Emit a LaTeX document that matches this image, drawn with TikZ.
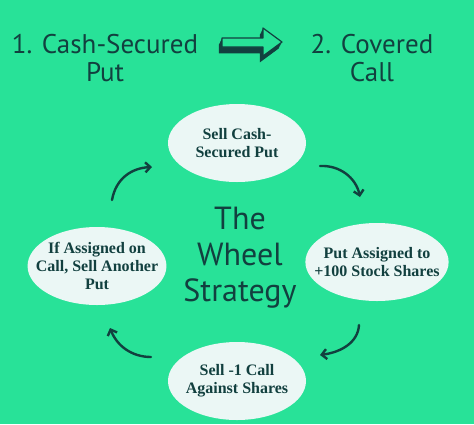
\documentclass[tikz,border=0pt]{standalone}
\usepackage{fontspec}
\setmainfont{Liberation Serif}
\newfontfamily\titlefont{PT Sans}
\usetikzlibrary{arrows.meta,shapes.geometric}
\definecolor{wheelbg}{RGB}{40,226,152}
\definecolor{wheelink}{RGB}{18,64,63}
\definecolor{wheelfill}{RGB}{235,247,245}
\tikzset{
  stepnode/.style={ellipse, fill=wheelfill, text=wheelink, inner xsep=-12pt, inner ysep=0pt,
    minimum width=138pt, minimum height=78pt, align=center,
    font=\bfseries\fontsize{16}{18}\selectfont},
  turn/.style={line width=2.4pt, draw=wheelink, line cap=round,
    -{Straight Barb[length=5pt,width=10pt]}},
  title/.style={text=wheelink, align=center, font=\titlefont\fontsize{27}{28}\selectfont}
}

\begin{document}
\begin{tikzpicture}[x=1pt,y=-1pt]
% background
\useasboundingbox (0,0) rectangle (474,424);
\fill[wheelbg] (0,0) rectangle (474,424);
% headings
\node[title] (first) at (105,58) {1. Cash-Secured\\Put};
\node[title] (second) at (372,58) {2. Covered\\Call};
% block arrow between the headings (extruded)
\foreach \k in {1,...,8}
  \fill[wheelink, shift={(-0.4*\k,0.8*\k)}] (222,38) -- (263,38) -- (263,28) -- (282,42)
    -- (263,56) -- (263,47) -- (222,47) -- cycle;
\filldraw[fill=wheelbg, draw=wheelink, line width=1.2pt, line join=round] (222,38) -- (263,38)
  -- (263,28) -- (282,42) -- (263,56) -- (263,47) -- (222,47) -- cycle;
% centre title
\node[title, font=\titlefont\fontsize{32}{36}\selectfont] (wheel) at (240,258) {The\\Wheel\\Strategy};
% the four steps
\node[stepnode] (sellput) at (237,143) {Sell Cash-\\Secured Put};
\node[stepnode] (assigned) at (377,262) {Put Assigned to\\+100 Stock Shares};
\node[stepnode] (sellcall) at (237,381) {Sell -1 Call\\Against Shares};
\node[stepnode] (again) at (97,266) {If Assigned on\\Call, Sell Another\\Put};
% curved arrows round the wheel
\coordinate (a1) at (112,200); \coordinate (b1) at (152,167);
\coordinate (a2) at (320,166); \coordinate (b2) at (360,197);
\coordinate (a3) at (359,325); \coordinate (b3) at (320,355);
\coordinate (a4) at (151,357); \coordinate (b4) at (110,328);
\draw[turn] (a1) .. controls (116,178) and (132,168) .. (b1);
\draw[turn] (a2) .. controls (340,165) and (356,178) .. (b2);
\draw[turn] (a3) .. controls (358,342) and (342,352) .. (b3);
\draw[turn] (a4) .. controls (132,357) and (117,346) .. (b4);
\end{tikzpicture}
\end{document}
